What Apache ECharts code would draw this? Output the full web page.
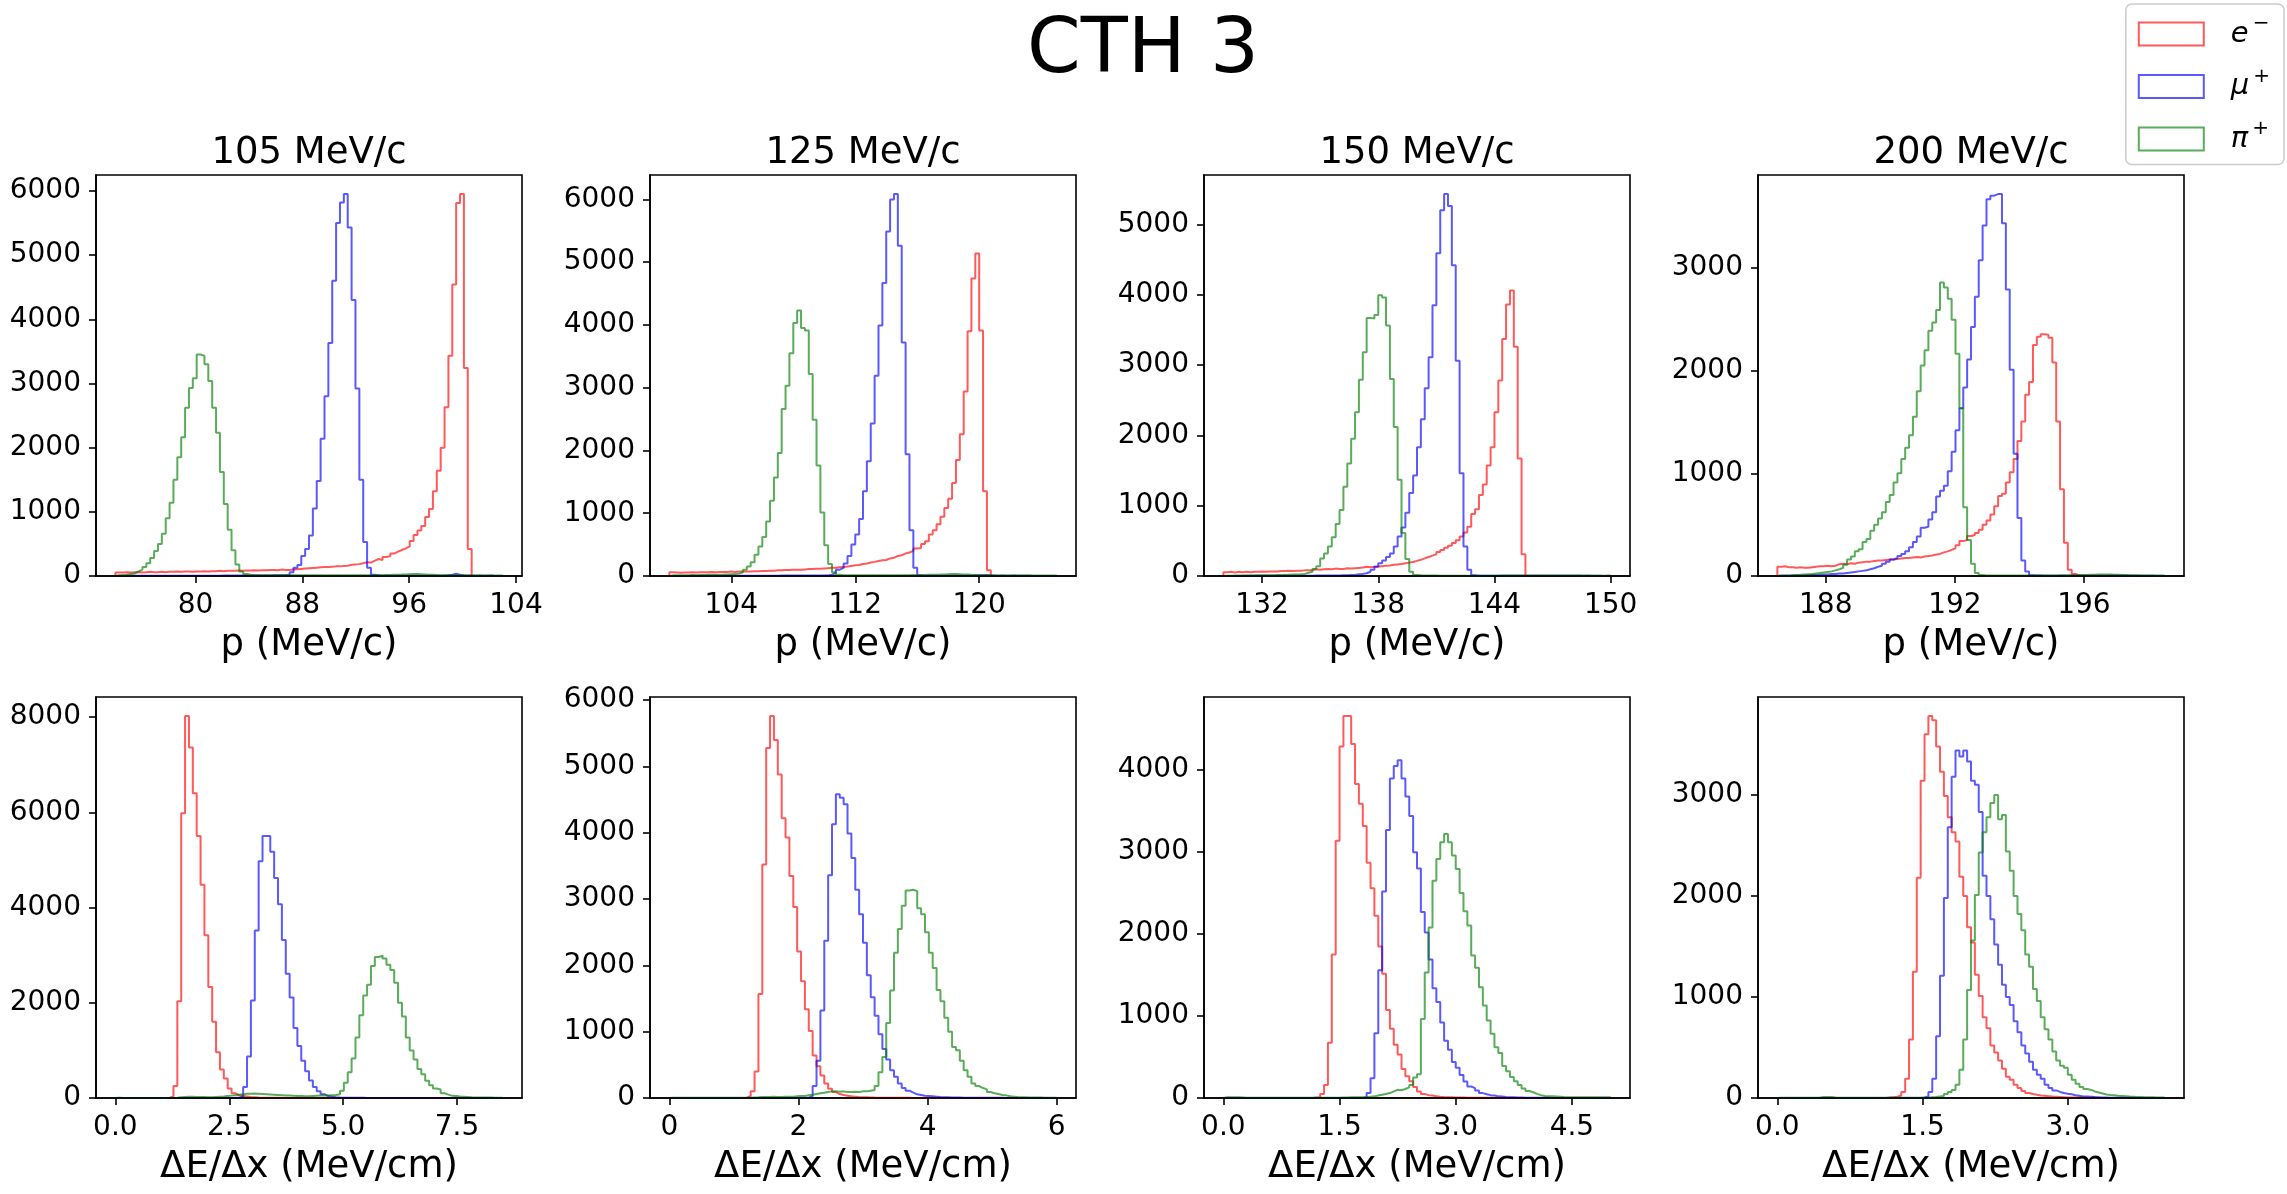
<!DOCTYPE html>
<html>
<head>
<meta charset="utf-8">
<title>CTH 3</title>
<script src="https://cdn.jsdelivr.net/npm/echarts@6/dist/echarts.min.js"></script>
<style>
  html, body { margin: 0; padding: 0; background: #fff; }
  #chart { width: 2287px; height: 1194px; }
</style>
</head>
<body>
<div id="chart"></div>
<script>
// ---- labels ----
const suptitle = 'CTH 3';
const beamTitles = ['105 MeV/c', '125 MeV/c', '150 MeV/c', '200 MeV/c'];
const xNames = ['p (MeV/c)', 'ΔE/Δx (MeV/cm)'];
const particles = ['e-', 'mu+', 'pi+'];
const legendLabels = { 'e-': '{b|e}{s|−}', 'mu+': '{b|μ}{s|+}', 'pi+': '{b|π}{s|+}' };

// ---- histogram ranges (100 bins each) ----
const pRanges = [[74, 103], [100, 125], [130, 150], [186.5, 198.5]];
const dedxRanges = [[0, 8.5], [0, 6], [0, 5], [0, 4]];

// ---- tick values / labels ----
const pTicks = [[80, 88, 96, 104], [104, 112, 120], [132, 138, 144, 150], [188, 192, 196]];
const pTickLabels = [['80', '88', '96', '104'], ['104', '112', '120'], ['132', '138', '144', '150'], ['188', '192', '196']];
const dedxTicks = [[0, 2.5, 5, 7.5], [0, 2, 4, 6], [0, 1.5, 3, 4.5], [0, 1.5, 3]];
const dedxTickLabels = [['0.0', '2.5', '5.0', '7.5'], ['0', '2', '4', '6'], ['0.0', '1.5', '3.0', '4.5'], ['0.0', '1.5', '3.0']];
const pCountTicks = [[0, 1000, 2000, 3000, 4000, 5000, 6000], [0, 1000, 2000, 3000, 4000, 5000, 6000],
  [0, 1000, 2000, 3000, 4000, 5000], [0, 1000, 2000, 3000]];
const dedxCountTicks = [[0, 2000, 4000, 6000, 8000], [0, 1000, 2000, 3000, 4000, 5000, 6000],
  [0, 1000, 2000, 3000, 4000], [0, 1000, 2000, 3000]];

// ---- momentum histograms (counts per bin) ----
const p105E = [55,55,60,55,60,60,55,60,65,60, 60,65,60,65,65,70,65,70,70,65,
  70,70,75,70,75,75,80,75,80,80, 80,85,80,85,85,90,85,90,90,95,
  95,90,100,95,95,100,105,110,115,120, 125,130,135,140,140,145,150,150,155,160,
  175,180,185,200,215,210,240,265,250,295, 310,350,380,405,430,460,545,640,710,780,
  920,1045,1320,1640,2000,2630,3430,4540,5810,5950, 3240,420,0,0,0,0,0,0,0,0];
const p105Mu = [0,0,2,2,3,3,3,4,4,4, 5,5,5,5,5,5,5,5,5,5,
  5,5,5,5,5,5,5,6,6,6, 6,6,6,7,7,7,8,8,8,9,
  10,10,12,15,20,60,130,170,310,420, 630,1050,1480,2140,2800,3630,4600,5500,5820,5950,
  5430,4300,2920,1500,530,130,20,8,5,5, 5,5,5,5,5,5,5,5,5,5,
  5,5,5,5,8,12,20,35,20,8, 5,3,3,2,2,2,2,1,1,1];
const p105Pi = [10,15,20,30,40,70,100,140,200,280, 390,500,660,900,1140,1500,1850,2160,2620,2930,
  3080,3450,3430,3300,3040,2620,2230,1620,1120,720, 400,180,70,30,20,15,12,10,10,10,
  12,10,10,12,10,10,12,10,10,12, 10,12,10,10,12,10,10,12,10,12,
  12,10,12,12,10,12,12,15,12,15, 15,18,20,22,25,28,30,30,28,25,
  20,18,15,12,12,10,10,12,10,10, 10,10,8,10,8,8,10,8,8,8];

const p125E = [60,55,50,55,55,60,55,60,60,60, 65,60,65,65,65,70,65,70,70,70,
  70,75,75,80,80,85,85,90,90,95, 95,100,100,100,105,110,110,115,115,120,
  125,130,130,140,145,150,160,170,175,190, 200,215,225,240,250,255,280,290,320,330,
  360,375,400,440,445,510,555,660,730,825, 945,1085,1230,1480,1850,2260,2940,3900,4740,5140,
  3910,1350,90,0,0,0,0,0,0,0, 0,0,0,0,0,0,0,0,0,0];
const p125Mu = [0,0,0,1,1,2,2,2,3,3, 3,3,3,4,4,4,4,5,5,5,
  5,5,5,5,5,5,5,5,6,6, 6,6,6,6,7,7,7,8,8,9,
  10,20,50,100,130,200,320,500,660,910, 1350,1830,2430,3190,3990,4670,5490,6000,6085,5260,
  3720,1940,730,130,10,5,5,5,5,5, 5,5,5,5,5,5,5,5,8,10,
  12,15,10,5,4,3,3,2,2,2, 2,2,1,1,1,1,1,1,1,1];
const p125Pi = [10,12,10,12,12,15,12,15,15,18, 18,20,20,22,25,28,30,40,60,100,
  150,220,340,470,620,870,1200,1570,1960,2660, 3030,3550,4030,4230,3950,3910,3220,2490,1760,1010,
  490,190,60,20,12,10,10,10,12,10, 10,12,10,10,12,10,12,10,12,12,
  12,12,15,12,15,15,18,18,20,22, 25,28,30,30,28,25,22,18,15,12,
  12,10,10,10,8,10,8,8,10,8, 8,8,10,8,8,8,8,8,8,8];

const p150E = [55,60,50,60,55,60,55,60,60,65, 60,65,65,65,70,70,75,70,75,75,
  80,80,85,95,90,95,100,95,105,100, 100,110,105,110,115,120,130,125,130,135,
  140,145,150,160,165,170,180,190,200,215, 230,250,270,290,310,340,370,400,430,470,
  510,560,620,700,880,950,1150,1300,1570,1830, 2330,2780,3370,3860,4060,3260,1670,310,0,0,
  0,0,0,0,0,0,0,0,0,0, 0,0,0,0,0,0,0,0,0,0];
const p150Mu = [0,0,1,1,1,2,2,2,2,3, 3,3,3,3,4,4,4,4,5,5,
  5,5,5,6,6,6,7,7,8,8, 9,10,15,15,25,30,40,60,90,130,
  180,220,270,320,420,560,690,900,1180,1430, 1830,2230,2670,3110,3850,4590,5200,5430,5260,4420,
  3060,1460,420,90,10,5,4,4,3,3, 3,3,3,3,3,3,3,3,3,3,
  3,3,3,3,3,2,2,2,2,2, 2,2,2,2,2,2,1,1,1,1];
const p150Pi = [5,5,6,6,7,7,8,8,9,10, 10,12,12,14,15,16,18,20,22,25,
  30,45,60,100,140,250,320,420,550,740, 940,1270,1600,1950,2330,2790,3180,3670,3660,3710,
  3990,3960,3560,2800,2120,1370,610,240,60,15, 10,8,8,6,6,5,5,5,5,5,
  5,5,5,5,5,5,5,5,5,5, 5,6,6,6,7,7,8,8,8,8,
  8,8,8,7,7,7,6,6,6,6, 6,6,5,6,5,5,6,5,6,8];

const p200E = [90,95,85,85,80,85,80,80,85,90, 95,95,100,95,100,115,120,115,125,120,
  130,135,140,140,145,150,150,155,160,160, 165,170,175,175,180,185,180,190,195,200,
  210,215,230,240,255,270,300,340,350,390, 400,420,450,500,540,600,680,780,800,910,
  1010,1140,1315,1505,1765,1890,2250,2330,2355,2350, 2320,2080,1505,845,325,60,20,5,3,3,
  3,2,2,2,2,2,1,1,1,1, 1,1,1,1,1,1,0,0,0,0];
const p200Mu = [2,3,3,4,5,5,6,8,10,10, 12,15,15,20,20,25,25,30,35,40,
  45,50,55,65,75,90,100,120,140,160, 175,195,215,240,280,330,385,470,480,550,
  620,775,830,880,1020,1210,1420,1635,1835,2110, 2425,2720,3075,3415,3670,3705,3720,3720,3435,2790,
  2010,1190,565,150,45,8,5,4,3,3, 3,3,3,3,3,3,3,3,3,3,
  3,3,3,3,3,4,5,6,5,4, 3,3,2,2,2,2,2,1,1,1];
const p200Pi = [5,5,6,8,10,12,15,18,20,25, 30,35,40,45,55,65,80,110,160,190,
  240,260,330,360,440,500,560,620,720,790, 910,1000,1140,1250,1370,1550,1800,2050,2200,2390,
  2470,2590,2860,2810,2700,2495,2165,1635,670,350, 120,30,10,5,5,5,5,5,5,5,
  5,5,5,5,5,5,5,5,5,6, 6,6,7,7,8,8,8,9,10,10,
  12,12,14,15,15,14,12,12,10,10, 8,8,7,6,6,5,5,5,4,4];

// ---- dE/dx histograms (counts per bin) ----
const d105E = [0,0,0,0,0,0,0,0,0,0, 0,0,0,5,30,250,2030,5980,8020,7360,
  6400,5500,4480,3420,2330,1600,960,600,410,200, 100,60,40,30,20,15,10,6,5,4,
  3,3,2,2,2,1,1,1,1,0, 0,0,0,0,0,0,0,0,0,0,
  0,0,0,0,0,0,0,0,0,0, 0,0,0,0,0,0,0,0,0,0,
  0,0,0,0,0,0,0,0,0,0, 0,0,0,0,0,0,0,0,0,0];
const d105Mu = [0,0,0,0,0,0,0,0,0,0, 0,0,0,0,0,0,0,0,0,0,
  0,0,0,0,0,0,0,0,0,0, 0,10,30,230,870,2050,3520,4970,5500,5500,
  5170,4620,4070,3320,2610,2110,1470,1090,780,560, 370,230,140,80,40,25,15,10,6,5,
  4,3,3,3,2,2,2,2,2,2, 1,1,1,1,1,1,1,1,1,1,
  1,1,1,1,1,0,0,0,0,0, 0,0,0,0,0,0,0,0,0,0];
const d105Pi = [5,2,2,2,2,2,2,2,2,2, 2,2,2,2,2,5,15,20,25,25,
  20,20,20,15,15,20,25,30,40,50, 60,70,80,90,90,95,90,85,80,75,
  70,65,60,55,50,45,40,40,35,35, 40,45,50,50,55,60,65,80,150,320,
  540,830,1270,1740,2150,2380,2770,2960,2990,2930, 2800,2690,2420,2000,1710,1270,1000,810,610,500,
  360,270,200,180,100,70,45,40,30,25, 20,15,12,10,10,8,8,6,5,5];

const d125E = [0,0,0,0,0,0,0,0,0,0, 0,0,0,0,0,0,0,0,0,5,
  30,100,400,1570,3520,5280,5760,5400,4880,4220, 3930,3350,2880,2210,1760,1340,1010,640,480,340,
  220,140,90,60,45,35,25,20,15,12, 10,8,6,5,5,4,3,3,2,2,
  2,2,1,1,1,1,1,0,0,0, 0,0,0,0,0,0,0,0,0,0,
  0,0,0,0,0,0,0,0,0,0, 0,0,0,0,0,0,0,0,0,0];
const d125Mu = [0,0,0,0,0,0,0,0,0,0, 0,0,0,0,0,0,0,0,0,0,
  0,0,0,0,0,0,0,0,0,0, 0,0,0,0,0,5,30,180,560,1320,
  2370,3360,4130,4580,4530,4430,3990,3620,3140,2770, 2340,1850,1520,1240,960,740,580,420,320,220,
  150,110,80,55,45,35,30,25,20,15, 12,10,8,7,6,5,5,4,4,3,
  3,3,2,2,2,2,1,1,1,1, 1,1,1,1,1,0,0,0,0,0];
const d125Pi = [2,2,2,2,2,2,2,2,2,2, 2,2,2,2,2,2,2,2,2,2,
  5,8,10,15,15,15,20,15,15,20, 20,20,25,30,30,40,50,60,70,80,
  90,100,100,95,100,90,90,95,90,100, 100,110,120,180,390,620,1130,1620,2190,2550,
  2900,3130,3140,3120,2860,2770,2500,2190,1960,1630, 1460,1210,1000,770,720,560,420,320,220,180,
  150,130,90,70,60,45,40,25,20,15, 12,10,8,8,6,6,5,5,4,4];

const d150E = [0,0,0,0,0,0,0,0,0,0, 0,0,0,0,0,0,0,0,0,0,
  0,0,0,5,10,50,160,675,1750,3140, 4290,4660,4660,4320,3830,3590,3320,2870,2560,2225,
  1850,1515,1075,845,650,530,355,265,205,135, 80,50,35,30,20,15,12,10,8,6,
  5,5,4,4,3,3,2,2,2,1, 1,1,1,0,0,0,0,0,0,0,
  0,0,0,0,0,0,0,0,0,0, 0,0,0,0,0,0,0,0,0,0];
const d150Mu = [0,0,0,0,0,0,0,0,0,0, 0,0,0,0,0,0,0,0,0,0,
  0,0,0,0,0,0,0,0,0,0, 0,0,0,0,0,0,10,60,240,790,
  1560,2520,3270,3900,4050,4120,3900,3680,3440,3000, 2800,2270,2020,1690,1340,1170,920,700,590,440,
  370,280,200,140,120,90,60,45,35,30, 20,18,12,10,8,6,5,4,3,3,
  2,2,2,2,1,1,1,1,1,1, 0,0,0,0,0,0,0,0,0,0];
const d150Pi = [10,10,10,8,6,2,2,2,2,2, 2,2,2,2,2,2,2,2,2,2,
  2,2,2,2,2,2,2,2,2,2, 5,5,8,10,10,10,10,15,20,30,
  40,50,60,80,100,95,110,130,160,250, 290,965,1530,2080,2650,2915,3120,3220,3120,2960,
  2795,2500,2280,2105,1740,1590,1350,1130,945,785, 620,550,390,325,255,205,160,115,85,70,
  50,35,25,22,20,18,15,12,10,8, 8,8,8,8,8,8,8,8,8,8];

const d200E = [0,0,0,0,0,0,0,0,0,0, 0,0,0,0,0,0,0,0,0,0,
  0,0,0,0,0,0,0,0,4,8, 12,25,60,190,580,1250,2180,3140,3600,3780,
  3740,3480,3230,2990,2780,2630,2540,2190,2000,1690, 1540,1220,1010,800,690,520,450,370,290,210,
  180,130,100,70,50,40,32,25,22,18, 14,12,10,8,6,5,4,4,3,3,
  2,2,1,1,1,1,0,0,0,0, 0,0,0,0,0,0,0,0,0,0];
const d200Mu = [0,0,0,0,0,0,0,0,0,0, 0,0,0,0,0,0,0,0,0,0,
  0,0,0,0,0,0,0,0,0,0, 0,0,0,0,0,0,0,5,15,60,
  190,610,1210,1980,2680,3180,3440,3380,3440,3330, 3140,3100,2830,2200,2000,1770,1520,1320,1120,1000,
  920,760,650,520,440,360,280,230,190,130, 100,75,60,50,42,38,28,22,16,14,
  12,9,8,6,5,3,3,3,2,2, 2,2,1,1,1,1,1,0,0,0];
const d200Pi = [3,3,3,3,3,3,3,3,3,3, 5,10,10,10,5,3,3,3,3,3,
  3,3,3,3,3,3,3,3,3,3, 3,3,3,3,3,3,3,3,3,8,
  10,15,20,40,60,80,130,280,580,1070, 1560,2010,2430,2630,2780,2920,3000,2760,2800,2440,
  2250,2000,1820,1660,1420,1300,1080,960,800,680, 580,460,370,320,300,230,180,140,110,90,
  80,65,55,45,35,30,28,22,20,18, 14,12,10,10,8,8,7,6,6,5];

// ---- assemble panels ----
const panels = [
  { range: pRanges[0], hists: [p105E, p105Mu, p105Pi], xt: pTicks[0], xl: pTickLabels[0], yt: pCountTicks[0] },
  { range: pRanges[1], hists: [p125E, p125Mu, p125Pi], xt: pTicks[1], xl: pTickLabels[1], yt: pCountTicks[1] },
  { range: pRanges[2], hists: [p150E, p150Mu, p150Pi], xt: pTicks[2], xl: pTickLabels[2], yt: pCountTicks[2] },
  { range: pRanges[3], hists: [p200E, p200Mu, p200Pi], xt: pTicks[3], xl: pTickLabels[3], yt: pCountTicks[3] },
  { range: dedxRanges[0], hists: [d105E, d105Mu, d105Pi], xt: dedxTicks[0], xl: dedxTickLabels[0], yt: dedxCountTicks[0] },
  { range: dedxRanges[1], hists: [d125E, d125Mu, d125Pi], xt: dedxTicks[1], xl: dedxTickLabels[1], yt: dedxCountTicks[1] },
  { range: dedxRanges[2], hists: [d150E, d150Mu, d150Pi], xt: dedxTicks[2], xl: dedxTickLabels[2], yt: dedxCountTicks[2] },
  { range: dedxRanges[3], hists: [d200E, d200Mu, d200Pi], xt: dedxTicks[3], xl: dedxTickLabels[3], yt: dedxCountTicks[3] }
];

const FONT = 'DejaVu Sans';
const colors = ['rgba(255,0,0,0.65)', 'rgba(0,0,255,0.65)', 'rgba(0,128,0,0.65)'];
const colLeft = [96, 650, 1204, 1758];
const rowTop = [175, 697];
const boxW = 426, boxH = 401;

// outline of a step histogram: bin edges with the count held across each bin
function stepPoints(range, vals) {
  const lo = range[0], hi = range[1], n = vals.length, w = (hi - lo) / n;
  const pts = [[lo, 0]];
  for (let i = 0; i < n; i++) pts.push([lo + i * w, vals[i]]);
  pts.push([hi, vals[n - 1]], [hi, 0]);
  return pts;
}

const titles = [{
  text: suptitle, left: 1143, top: 13, textAlign: 'center', padding: 0,
  textStyle: { fontFamily: FONT, fontSize: 77, fontWeight: 'normal', color: '#000' }
}];
const grids = [], xAxes = [], yAxes = [], series = [];

panels.forEach((p, k) => {
  const row = Math.floor(k / 4), col = k % 4;
  const lo = p.range[0], hi = p.range[1], span = hi - lo;
  let peak = 0;
  p.hists.forEach(h => h.forEach(v => { if (v > peak) peak = v; }));

  grids.push({
    left: colLeft[col], top: rowTop[row], width: boxW, height: boxH,
    show: true, borderColor: '#000', borderWidth: 1.6, backgroundColor: 'transparent',
    containLabel: false, outerBoundsMode: 'none'
  });
  if (row === 0) {
    titles.push({
      text: beamTitles[col], left: colLeft[col] + boxW / 2, top: 135, textAlign: 'center', padding: 0,
      textStyle: { fontFamily: FONT, fontSize: 37, fontWeight: 'normal', color: '#000' }
    });
  }
  xAxes.push({
    type: 'value', gridIndex: k, min: lo - 0.05 * span, max: hi + 0.05 * span, z: 10,
    axisLine: { show: true, onZero: false, lineStyle: { color: '#000', width: 1.6 } },
    axisTick: { show: true, length: 7, customValues: p.xt, lineStyle: { color: '#000', width: 1.6 } },
    axisLabel: {
      customValues: p.xt, margin: 16, fontFamily: FONT, fontSize: 28, color: '#000',
      formatter: v => { const i = p.xt.findIndex(t => Math.abs(t - v) < 1e-9); return i >= 0 ? p.xl[i] : ''; }
    },
    splitLine: { show: false },
    name: xNames[row], nameLocation: 'middle', nameGap: 51,
    nameTextStyle: { fontFamily: FONT, fontSize: 37, color: '#000' }
  });
  yAxes.push({
    type: 'value', gridIndex: k, min: 0, max: 1.05 * peak, z: 10,
    axisLine: { show: true, onZero: false, lineStyle: { color: '#000', width: 1.6 } },
    axisTick: { show: true, length: 7, customValues: p.yt, lineStyle: { color: '#000', width: 1.6 } },
    axisLabel: { customValues: p.yt, margin: 15, fontFamily: FONT, fontSize: 28, color: '#000', formatter: v => String(v) },
    splitLine: { show: false }
  });
  p.hists.forEach((h, s) => {
    series.push({
      type: 'line', name: particles[s], xAxisIndex: k, yAxisIndex: k,
      data: stepPoints(p.range, h), step: 'end', symbol: 'none', showSymbol: false,
      lineStyle: { color: colors[s], width: 2 }, itemStyle: { color: colors[s] },
      silent: true, animation: false, z: 2 + s
    });
  });
});

const chart = echarts.init(document.getElementById('chart'));
chart.setOption({
  backgroundColor: '#fff',
  animation: false,
  title: titles,
  grid: grids,
  xAxis: xAxes,
  yAxis: yAxes,
  legend: {
    orient: 'vertical', right: 3, top: 4, padding: [10, 14, 11, 12],
    itemWidth: 65, itemHeight: 23, itemGap: 18, selectedMode: false,
    backgroundColor: 'rgba(255,255,255,0.8)', borderColor: '#cccccc', borderWidth: 1.5, borderRadius: 6,
    data: particles.map((n, i) => ({
      name: n, icon: 'rect',
      itemStyle: { color: 'rgba(255,255,255,0)', borderColor: colors[i], borderWidth: 2 }
    })),
    formatter: n => legendLabels[n],
    textStyle: {
      color: '#000', fontFamily: FONT,
      rich: {
        b: { fontFamily: FONT, fontStyle: 'italic', fontSize: 29, lineHeight: 40, color: '#000', padding: [0, 0, 0, 22] },
        s: { fontFamily: FONT, fontSize: 20, lineHeight: 20, verticalAlign: 'top', color: '#000', padding: [0, 0, 0, 4] }
      }
    }
  },
  series: series
});
</script>
</body>
</html>
